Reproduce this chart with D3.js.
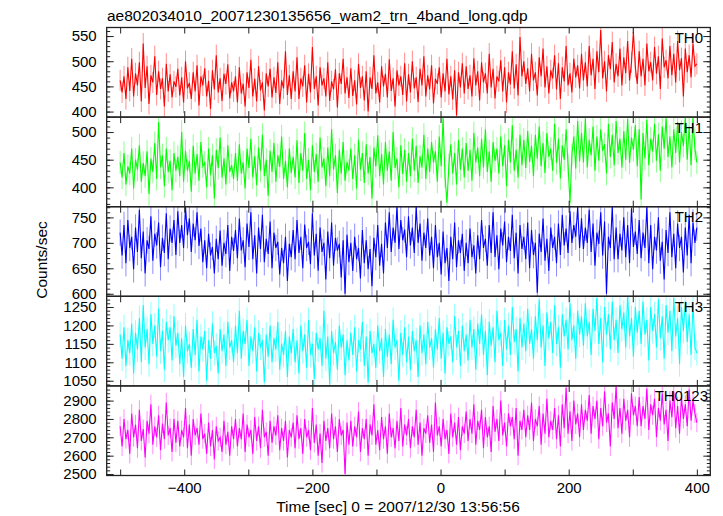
<!DOCTYPE html>
<html><head><meta charset="utf-8">
<script src="https://cdn.jsdelivr.net/npm/d3@7"></script>
<style>
body{margin:0;background:#fff}
text{font-family:"Liberation Sans",Arial,Helvetica,sans-serif;fill:#000}
</style>
</head><body>
<svg id="chart" width="723" height="516"></svg>
<script>
const chartTitle = "ae802034010_20071230135656_wam2_trn_4band_long.qdp";
const xLabel = "Time [sec] 0 = 2007/12/30 13:56:56";
const yLabel = "Counts/sec";
const bandNames = ["TH0", "TH1", "TH2", "TH3", "TH0123"];
const bandColors = ["#ff0000", "#00ff00", "#0000ff", "#00ffff", "#ff00ff"];
const binStart = -500, binStep = 3;
// typical 1-sigma error bar half-length per band (counts/sec)
const bandErrors = [21, 21, 26, 34, 52];

const th0 = [
462,438,470,425,488,441,505,430,476,452, 498,420,535,447,490,415,472,458,510,433, 480,445,466,410,495,440,474,428,460,449,
485,432,468,418,500,446,457,425,478,440, 492,412,470,452,486,430,461,405,482,444, 512,438,466,421,475,455,494,426,458,440,
470,418,488,436,455,410,478,447,503,430, 465,420,490,442,458,402,476,450,485,428, 468,437,498,415,462,446,520,433,472,425,
480,440,508,425,466,450,492,418,475,438, 528,445,470,412,488,452,466,430,498,421, 460,444,484,408,476,455,505,436,468,427,
486,431,462,414,495,447,470,422,480,400, 468,445,512,436,458,418,490,450,475,428, 504,441,466,410,482,452,470,433,496,420,
474,438,500,446,468,419,485,452,510,430, 472,444,492,416,465,455,488,428,476,440, 505,434,470,424,482,392,478,448,496,436,
490,445,472,430,506,452,480,422,498,458, 476,436,515,448,485,426,470,460,502,440, 488,418,478,454,520,446,494,432,548,470,
500,455,486,440,515,462,478,432,508,470, 525,448,490,436,482,466,512,444,496,425, 488,460,530,452,476,438,505,468,492,446,
515,462,498,450,530,472,505,445,520,478, 562,466,500,440,512,484,538,458,495,470, 525,452,508,476,540,462,498,558,488,455,
520,470,505,452,535,480,498,462,528,475, 510,445,545,488,502,466,530,472,515,458, 540,482,506,430,525,478,512,468,535,490,
495];

const th1 = [
445,418,462,405,438,425,470,398,450,432, 476,410,444,420,465,388,452,428,480,415, 518,436,458,402,470,428,448,395,462,430,
455,420,500,410,466,430,448,392,475,425, 460,412,482,438,445,400,470,422,458,380, 468,435,490,418,452,405,476,428,440,415,
462,412,478,425,445,398,470,435,488,418, 456,404,472,430,495,420,450,385,466,428, 480,410,458,437,492,415,448,400,470,426,
455,418,485,408,462,430,498,415,450,395, 476,428,460,410,490,436,452,402,472,420, 505,432,458,390,468,425,482,412,446,430,
470,415,458,398,486,432,462,408,478,425, 455,380,472,438,494,420,460,405,482,430, 465,412,500,435,452,400,476,424,468,410,
462,420,488,430,475,408,456,436,495,415, 470,428,482,445,465,410,492,438,525,420, 372,440,478,425,462,405,486,432,470,418,
480,430,468,412,498,445,472,420,488,436, 505,428,465,410,482,448,470,425,492,438, 476,402,486,445,512,430,468,418,495,440,
486,435,502,446,475,420,495,452,510,438, 480,426,498,455,470,430,515,444,488,416, 476,450,505,440,372,458,492,434,520,447,
498,445,525,436,486,458,510,430,492,448, 505,466,478,425,515,455,495,440,520,462, 488,436,502,450,524,444,490,468,512,438,
505,378,498,452,522,440,488,465,515,448, 496,430,510,470,525,455,492,436,505,462, 518,445,500,475,527,450,510,440,526,470,
445];

const th2 = [
720,675,735,660,745,690,712,648,730,682, 765,670,722,640,705,688,752,665,718,695, 740,652,710,680,758,668,728,700,745,676,
762,700,735,690,771,715,748,682,738,705, 760,694,728,662,705,650,718,675,692,640, 708,668,724,655,700,678,735,645,712,684,
725,670,748,685,705,652,738,692,760,668, 715,640,730,688,755,662,708,678,742,650, 720,690,702,638,690,660,712,625,698,672,
725,668,745,680,712,650,736,690,702,658, 758,675,718,645,730,682,700,628,722,670, 740,655,710,685,698,632,705,600,716,662,
700,645,712,668,690,630,725,660,705,648, 688,615,710,672,735,655,698,640,740,690, 760,682,730,700,771,688,745,705,726,672,
752,695,730,680,771,700,738,665,720,690, 748,675,712,650,735,672,700,638,722,660, 690,625,712,668,740,652,705,680,718,645,
700,660,728,672,695,640,715,668,745,690, 708,655,735,680,760,672,715,648,728,695, 742,662,712,684,755,670,720,640,735,688,
712,668,740,650,725,676,700,602,718,682, 748,665,708,645,730,690,712,660,738,676, 755,695,728,680,762,700,735,712,771,690,
748,688,730,700,765,682,738,655,720,698, 760,675,742,600,712,690,771,668,730,668, 718,685,750,672,735,660,768,692,722,678,
745,670,720,690,771,660,735,648,712,685, 750,665,702,628,725,680,760,672,718,650, 738,690,712,642,730,675,755,660,740,700,
730];

const th3 = [
1175,1110,1195,1090,1160,1125,1205,1070,1180,1135, 1220,1100,1255,1140,1190,1095,1230,1150,1200,1115, 1245,1130,1185,1080,1210,1160,1195,1105,1225,1145,
1180,1095,1165,1060,1200,1130,1150,1085,1190,1120, 1215,1075,1170,1135,1185,1050,1160,1110,1205,1125, 1145,1070,1190,1130,1175,1090,1210,1140,1160,1100,
1200,1125,1240,1110,1185,1150,1215,1090,1170,1130, 1195,1075,1180,1140,1160,1045,1175,1115,1200,1100, 1165,1135,1210,1080,1150,1120,1185,1060,1170,1125,
1190,1100,1160,1070,1200,1130,1175,1085,1215,1120, 1150,1055,1180,1135,1165,1090,1240,1110,1170,1040, 1185,1125,1155,1080,1200,1140,1175,1065,1160,1105,
1180,1120,1195,1075,1160,1135,1210,1090,1170,1045, 1185,1125,1150,1085,1200,1130,1165,1060,1190,1115, 1175,1095,1215,1140,1160,1050,1180,1120,1195,1100,
1170,1080,1185,1130,1160,1060,1200,1125,1175,1095, 1210,1140,1165,1085,1190,1135,1220,1110,1180,1070, 1195,1150,1170,1100,1225,1140,1185,1090,1200,1130,
1175,1105,1215,1140,1190,1080,1205,1150,1230,1120, 1185,1065,1210,1145,1195,1100,1240,1160,1180,1090, 1215,1135,1200,1120,1250,1155,1190,1075,1220,1140,
1205,1130,1245,1150,1190,1110,1225,1160,1270,1140, 1200,1090,1235,1165,1210,1125,1255,1150,1195,1085, 1230,1170,1215,1135,1260,1160,1200,1110,1240,1175,
1225,1145,1260,1170,1210,1120,1245,1185,1275,1150, 1220,1100,1250,1175,1230,1135,1265,1160,1215,1125, 1255,1190,1235,1140,1285,1170,1220,1115,1250,1180,
1240,1150,1265,1175,1215,1105,1250,1185,1230,1140, 1270,1165,1225,1110,1255,1180,1240,1130,1275,1170, 1220,1095,1250,1185,1265,1155,1230,1120,1260,1140,
1125];

const th0123 = [
2760,2650,2800,2690,2740,2610,2830,2700,2770,2640, 2850,2680,2745,2590,2790,2720,2880,2660,2760,2700, 2820,2630,2775,2690,2890,2710,2750,2620,2800,2670,
2790,2650,2740,2700,2860,2640,2770,2600,2800,2710, 2750,2660,2830,2690,2720,2610,2780,2650,2740,2580, 2760,2680,2700,2620,2790,2660,2730,2600,2760,2690,
2800,2650,2750,2690,2830,2620,2770,2700,2740,2610, 2810,2680,2760,2640,2850,2700,2730,2600,2790,2670, 2760,2710,2820,2630,2750,2680,2790,2590,2740,2700,
2780,2640,2820,2690,2750,2610,2800,2700,2740,2630, 2860,2670,2770,2600,2720,2560,2790,2680,2750,2640, 2830,2690,2760,2620,2800,2710,2740,2500,2780,2660,
2790,2650,2760,2700,2840,2620,2750,2690,2800,2600, 2770,2710,2880,2660,2740,2630,2810,2690,2760,2610, 2830,2700,2750,2640,2790,2680,2860,2650,2770,2710,
2800,2640,2760,2700,2850,2660,2780,2600,2750,2720, 2820,2670,2770,2620,2890,2710,2760,2650,2800,2690, 2740,2610,2830,2700,2780,2660,2810,2630,2760,2720,
2840,2680,2800,2720,2880,2660,2790,2740,2850,2640, 2810,2700,2760,2620,2870,2730,2800,2680,2900,2710, 2780,2650,2830,2760,2810,2690,2860,2600,2790,2740,
2850,2700,2820,2740,2890,2680,2800,2760,2870,2660, 2830,2720,2910,2700,2790,2740,2860,2690,2820,2650, 2880,2750,2970,2720,2840,2680,2900,2770,2830,2700,
2880,2740,2850,2790,2930,2720,2870,2800,2900,2690, 2860,2760,2950,2780,2830,2650,2890,2800,2975,2750, 2860,2720,2910,2790,2850,2700,2940,2820,2870,2760,
2920,2760,2870,2800,2965,2740,2880,2820,2910,2700, 2860,2790,2940,2770,2850,2680,2900,2810,2950,2750, 2870,2720,2920,2800,2880,2760,2960,2790,2900,2830,
2780];

const xDomain = [-521, 421];
const xTickLabels = [-400, -200, 0, 200, 400];
const yDomains = [[389, 567], [365, 527], [595, 771], [1036, 1279], [2492, 2980]];
const yTickLabels = [
  [400, 450, 500, 550],
  [400, 450, 500],
  [600, 650, 700, 750],
  [1050, 1100, 1150, 1200, 1250],
  [2500, 2600, 2700, 2800, 2900]
];
const yMinorSteps = [10, 10, 10, 10, 20];

const seriesList = [th0, th1, th2, th3, th0123];

const svg = d3.select("#chart");
const plotLeft = 106.7, plotRight = 710.3, plotTop = 27.5, plotBottom = 475.5;
const nP = seriesList.length;
const pH = (plotBottom - plotTop) / nP;

const x = d3.scaleLinear().domain(xDomain).range([plotLeft, plotRight]);
const xMinor = d3.range(-500, 401, 100);
const tAt = i => binStart + i * binStep;

const makeLine = (y) => d3.line().x((d, i) => x(tAt(i))).y(d => y(d));

const styleAxis = a => { a.select(".domain").remove(); a.selectAll("line").attr("stroke", "#222"); };

seriesList.forEach((vals, p) => {
  const y0 = plotTop + p * pH, y1 = y0 + pH;
  const y = d3.scaleLinear().domain(yDomains[p]).range([y1, y0]);
  const g = svg.append("g");
  const clipId = "clip" + p;
  svg.append("clipPath").attr("id", clipId).append("rect")
    .attr("x", plotLeft).attr("y", y0).attr("width", plotRight - plotLeft).attr("height", pH);

  const dg = g.append("g").attr("clip-path", `url(#${clipId})`);
  const err = bandErrors[p];
  // error bars (lighter)
  dg.append("g").selectAll("line").data(vals).join("line")
    .attr("x1", (d, i) => x(tAt(i))).attr("x2", (d, i) => x(tAt(i)))
    .attr("y1", d => y(d - err)).attr("y2", d => y(d + err))
    .attr("stroke", bandColors[p]).attr("stroke-opacity", 0.45).attr("stroke-width", 1);
  dg.append("path").datum(vals).attr("d", makeLine(y))
    .attr("fill", "none").attr("stroke", bandColors[p])
    .attr("stroke-width", 1.1);

  const dom = yDomains[p];
  const st = yMinorSteps[p];
  const minor = d3.range(Math.ceil(dom[0] / st) * st, dom[1], st);

  g.append("g").attr("transform", `translate(${plotLeft},0)`)
    .call(d3.axisLeft(y).tickValues(minor).tickSizeInner(-3.5).tickSizeOuter(0).tickFormat(""))
    .call(styleAxis);
  g.append("g").attr("transform", `translate(${plotRight},0)`)
    .call(d3.axisRight(y).tickValues(minor).tickSizeInner(-3.5).tickSizeOuter(0).tickFormat(""))
    .call(styleAxis);
  const la = g.append("g").attr("transform", `translate(${plotLeft},0)`)
    .call(d3.axisLeft(y).tickValues(yTickLabels[p]).tickSizeInner(-7).tickSizeOuter(0).tickPadding(10).tickFormat(d3.format("d")))
    .call(styleAxis);
  la.selectAll("text").attr("font-size", 15).attr("font-family", "Liberation Sans, Arial, sans-serif").attr("fill", "#000");
  g.append("g").attr("transform", `translate(${plotRight},0)`)
    .call(d3.axisRight(y).tickValues(yTickLabels[p]).tickSizeInner(-7).tickSizeOuter(0).tickFormat(""))
    .call(styleAxis);

  g.append("g").attr("transform", `translate(0,${y1})`)
    .call(d3.axisBottom(x).tickValues(xMinor).tickSizeInner(-6).tickSizeOuter(0).tickFormat(""))
    .call(styleAxis);
  g.append("g").attr("transform", `translate(0,${y0})`)
    .call(d3.axisTop(x).tickValues(xMinor).tickSizeInner(-6).tickSizeOuter(0).tickFormat(""))
    .call(styleAxis);

  g.append("rect").attr("x", plotLeft).attr("y", y0).attr("width", plotRight - plotLeft).attr("height", pH)
    .attr("fill", "none").attr("stroke", "#222").attr("stroke-width", 1.3);

  g.append("text").attr("x", bandNames[p].length > 4 ? 708 : 703).attr("y", y0 + 15.5)
    .attr("text-anchor", "end").attr("font-size", 15).text(bandNames[p]);

  if (p === nP - 1) {
    const xa = g.append("g").attr("transform", `translate(0,${y1})`)
      .call(d3.axisBottom(x).tickValues(xTickLabels).tickSize(0).tickPadding(7))
      .call(styleAxis);
    xa.selectAll("text").attr("font-size", 15).attr("font-family", "Liberation Sans, Arial, sans-serif").attr("fill", "#000");
  }
});

svg.append("text").attr("x", 107).attr("y", 20.5).attr("font-size", 15.5).text(chartTitle);
svg.append("text").attr("x", 398).attr("y", 511.5).attr("text-anchor", "middle").attr("font-size", 15.5).text(xLabel);
svg.append("text").attr("transform", "translate(46.5,260) rotate(-90)").attr("text-anchor", "middle")
  .attr("font-size", 15.5).text(yLabel);
</script>
</body></html>
